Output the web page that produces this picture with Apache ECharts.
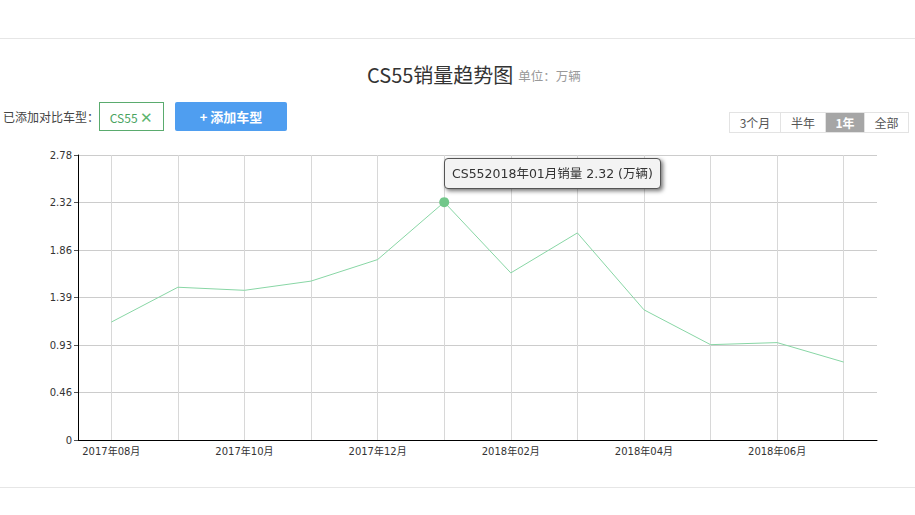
<!DOCTYPE html>
<html>
<head>
<meta charset="utf-8">
<script src="https://cdn.jsdelivr.net/npm/echarts@6/dist/echarts.min.js"></script>
<style>
  html, body { margin: 0; padding: 0; background: #fff; width: 915px; height: 515px; overflow: hidden; font-family: "Noto Sans CJK SC", "Noto Sans", sans-serif; }
  #chart { position: absolute; left: 0; top: 0; width: 915px; height: 515px; }
  .hline { position: absolute; left: 0; width: 915px; height: 1px; background: #e6e6e6; }
  .lbl { position: absolute; left: 3px; top: 108px; font-size: 12px; color: #444; line-height: 18px; }
  .tag { position: absolute; left: 99px; top: 102px; width: 63px; height: 27px; border: 1px solid #5aab6e; color: #4aa35f; font-size: 12px; line-height: 27px; text-align: center; box-sizing: content-box; }
  .btn { position: absolute; left: 175px; top: 102px; width: 112px; height: 29px; background: #4f9ef0; border-radius: 2px; color: #fff; font-size: 13px; font-weight: bold; line-height: 29px; text-align: center; }
  .seg { position: absolute; top: 112px; height: 19px; border: 1px solid #e3e3e3; display: flex; }
  .seg div { font-size: 12px; color: #555; line-height: 19px; text-align: center; border-right: 1px solid #e3e3e3; }
  .seg div:last-child { border-right: none; }
  .seg div.on { background: #a6a6a6; color: #fff; font-weight: bold; }
</style>
</head>
<body>
<div class="hline" style="top:38px"></div>
<div class="hline" style="top:487px"></div>
<div id="chart"></div>
<div class="lbl">已添加对比车型：</div>
<div class="tag">CS55 <span style="font-size:15px;color:#5cb56f">✕</span></div>
<div class="btn">+ 添加车型</div>
<div class="seg" style="left:729px;">
  <div style="width:50px">3个月</div>
  <div style="width:44px">半年</div>
  <div class="on" style="width:38px">1年</div>
  <div style="width:43px">全部</div>
</div>
<script>
const seriesName = 'CS55';
const categories = ['2017年08月','2017年09月','2017年10月','2017年11月','2017年12月','2018年01月','2018年02月','2018年03月','2018年04月','2018年05月','2018年06月','2018年07月'];
const sales = [1.15, 1.49, 1.46, 1.55, 1.76, 2.32, 1.63, 2.02, 1.27, 0.93, 0.95, 0.76];
const yTickLabels = ['0','0.46','0.93','1.39','1.86','2.32','2.78'];
const yMax = 2.78;
const highlightIndex = 5;

const chart = echarts.init(document.getElementById('chart'), null, { renderer: 'svg' });
const yInterval = yMax / (yTickLabels.length - 1);
chart.setOption({
  animation: false,
  title: {
    text: '{a|CS55销量趋势图} {b|单位：万辆}',
    left: 362, top: 59,
    textStyle: {
      fontWeight: 'normal',
      rich: {
        a: { fontSize: 20, color: '#333', fontWeight: 'normal', fontFamily: 'Noto Sans CJK SC' },
        b: { fontSize: 12.5, color: '#999', fontWeight: 'normal', fontFamily: 'Noto Sans CJK SC', padding: [4, 0, 0, 0] }
      }
    }
  },
  grid: { left: 78, right: 38, top: 155, bottom: 75 },
  tooltip: {
    trigger: 'axis',
    triggerOn: 'none',
    alwaysShowContent: true,
    axisPointer: { type: 'none' },
    backgroundColor: '#f3f3f3',
    borderColor: '#555',
    borderWidth: 1,
    padding: [5, 7],
    textStyle: { color: '#333', fontSize: 12.5, fontFamily: 'DejaVu Sans, Noto Sans CJK SC' },
    extraCssText: 'box-shadow: 2px 2px 4px rgba(0,0,0,0.55); border-radius: 4px;',
    position: function (pt) { return [pt[0], pt[1] - 44]; },
    formatter: function (params) {
      const p = params[0];
      return p.seriesName + p.name + '销量 ' + p.value + ' (万辆)';
    }
  },
  xAxis: {
    type: 'category',
    data: categories,
    boundaryGap: true,
    axisLine: { lineStyle: { color: '#000', width: 1 } },
    axisTick: { alignWithLabel: true, interval: 0, length: 5, lineStyle: { color: '#000' } },
    axisLabel: { interval: 1, fontSize: 10, color: '#333', margin: 6, fontFamily: 'DejaVu Sans, Noto Sans CJK SC' },
    splitLine: { show: true, alignWithLabel: true, interval: 0, lineStyle: { color: '#d8d8d8', width: 1 } }
  },
  yAxis: {
    type: 'value',
    min: 0,
    max: yMax,
    interval: yInterval,
    axisLine: { show: true, lineStyle: { color: '#000', width: 1 } },
    axisTick: { show: true, length: 4, lineStyle: { color: '#555' } },
    axisLabel: {
      fontSize: 10, color: '#333', margin: 6, fontFamily: 'DejaVu Sans',
      formatter: function (v) { return yTickLabels[Math.round(v / yInterval)]; }
    },
    splitLine: { show: true, lineStyle: { color: '#cccccc', width: 1 } }
  },
  series: [{
    name: seriesName,
    type: 'line',
    data: sales,
    showSymbol: false,
    symbol: 'circle',
    symbolSize: 10,
    lineStyle: { color: '#7cc396', width: 1 },
    itemStyle: { color: '#72c78a' },
    emphasis: { scale: false, lineStyle: { width: 1 } }
  }]
});
chart.dispatchAction({ type: 'highlight', seriesIndex: 0, dataIndex: highlightIndex });
chart.dispatchAction({ type: 'showTip', seriesIndex: 0, dataIndex: highlightIndex });
</script>
</body>
</html>
